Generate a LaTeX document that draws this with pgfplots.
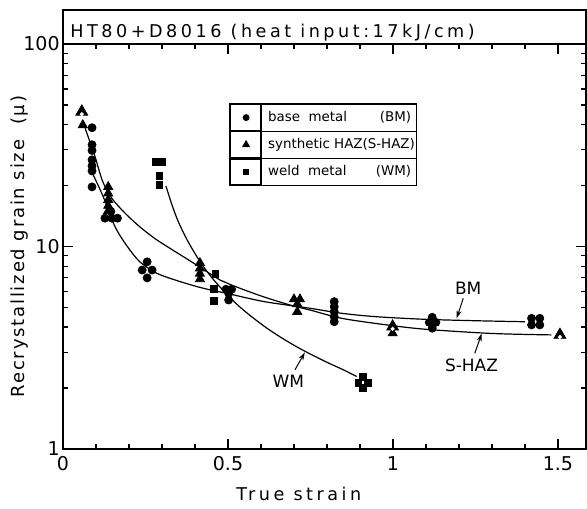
\documentclass[border=0pt]{standalone}
\usepackage{fontspec}
\setmainfont{DejaVu Sans}
\newfontfamily\widefont{DejaVu Sans}[LetterSpace=20]
\newfontfamily\ylabfont{DejaVu Sans}[LetterSpace=10]
\usepackage{pgfplots}
\pgfplotsset{compat=1.18}
\usetikzlibrary{calc,arrows.meta}

\begin{document}
\begin{tikzpicture}
\begin{axis}[
  at={(0,0)}, anchor=south west,
  scale only axis,
  width=261.5pt, height=202.5pt,
  xmin=0, xmax=1.585,
  ymode=log, ymin=1, ymax=100,
  xtick={0,0.5,1,1.5}, xticklabels={0,0.5,1,1.5},
  minor x tick num=4,
  ytick={1,10,100}, yticklabels={1,10,100},
  tick align=inside,
  major tick length=5pt, minor tick length=2.5pt,
  axis line style={line width=0.8pt},
  every tick/.style={black, line width=0.6pt},
  tick label style={font=\fontsize{9.5}{10}\selectfont},
  yticklabel style={inner sep=1.5pt},
  xticklabel style={inner sep=3.5pt},
  xlabel={True strain},
  ylabel={Recrystallized grain size\ \ (μ)},
  xlabel style={font=\widefont\fontsize{8.8}{10}\selectfont, at={(axis description cs:0.451,-0.126)}, anchor=base},
  ylabel style={font=\ylabfont\fontsize{9}{10}\selectfont, at={(axis description cs:-0.073,0.5)}, anchor=base},
  clip=false,
  legend image code/.code={
    \path (0pt,-6.5pt) rectangle (15.5pt,6.5pt);
    \draw[#1, mark options={scale=0.7}] plot coordinates {(7.75pt,0pt)};
  },
  legend style={name=L, at={(axis description cs:0.3193,0.8519)}, anchor=north west,
    draw=black, line width=0.6pt, inner sep=0pt, outer sep=0pt,
    row sep=0pt, column sep=0pt,
    nodes={inner sep=0pt, text height=8.5pt, text depth=4.5pt},
    cells={anchor=west},
    font=\fontsize{6.7}{8}\selectfont},
]

% fitted curves
\addplot[forget plot, smooth, black, line width=0.6pt] coordinates {
  (0.092,22.5) (0.122,17.6) (0.158,12.5) (0.195,10.0) (0.233,8.4)
  (0.284,7.38) (0.35,6.75) (0.42,6.25) (0.5,5.85) (0.6,5.38)
  (0.678,5.14) (0.75,4.95) (0.844,4.68) (0.95,4.5) (1.097,4.37)
  (1.25,4.3) (1.4,4.25)
};
\addplot[forget plot, smooth, black, line width=0.6pt] coordinates {
  (0.067,38.4) (0.097,27.8) (0.12,21.0) (0.148,17.3) (0.19,14.5)
  (0.233,12.5) (0.28,10.9) (0.324,9.8) (0.365,8.9) (0.405,8.1)
  (0.476,6.83) (0.511,6.45) (0.6,5.7) (0.688,5.14) (0.75,4.85)
  (0.844,4.42) (0.981,4.1) (1.1,3.9) (1.3,3.72) (1.48,3.66)
};
\addplot[forget plot, smooth, black, line width=0.6pt] coordinates {
  (0.312,19.9) (0.33,16.1) (0.35,13.2) (0.38,10.5) (0.42,8.2)
  (0.46,6.74) (0.516,5.39) (0.56,4.66) (0.62,3.93) (0.68,3.40)
  (0.733,3.04) (0.8,2.68) (0.85,2.46) (0.89,2.28)
};

% base metal
\addplot[only marks, mark=*, mark size=2pt, black] coordinates {
  (0.088,38.6) (0.088,31.8) (0.088,29.8) (0.088,26.8) (0.088,25.0)
  (0.088,23.6) (0.088,19.7)
  (0.127,13.8) (0.148,13.8) (0.165,13.8) (0.145,14.9)
  (0.24,7.65) (0.255,8.4) (0.27,7.65) (0.255,7.0)
  (0.494,6.15) (0.511,6.15) (0.502,5.87) (0.502,5.44)
  (0.822,5.34) (0.822,5.04) (0.822,4.77) (0.822,4.5) (0.822,4.25)
  (1.119,4.47) (1.11,4.22) (1.13,4.22) (1.119,3.95)
  (1.42,4.42) (1.445,4.42) (1.42,4.1) (1.445,4.1)
};
\addlegendentry{\makebox[77pt][l]{\hspace{3pt}base\ \ metal\hfill(BM)\hspace{2.5pt}}}

% synthetic HAZ
\addplot[only marks, mark=triangle*, mark size=2.6pt, black] coordinates {
  (0.06,39.8)
  (0.137,19.7) (0.137,18.3) (0.137,17.0) (0.137,15.9) (0.137,15.0)
  (0.415,8.3) (0.415,7.8) (0.415,7.35) (0.415,6.9)
  (0.70,5.49) (0.718,5.49) (0.71,5.2) (0.71,4.76)
  (0.999,3.73)
};
\addlegendentry{\makebox[77pt][l]{\hspace{3pt}synthetic HAZ(S-HAZ)\hfill\hspace{1pt}}}

% weld metal
\addplot[only marks, mark=square*, mark size=1.7pt, black] coordinates {
  (0.28,26.2) (0.30,26.2) (0.292,22.3) (0.292,20.1)
  (0.462,7.31) (0.458,6.17) (0.458,5.38)
  (0.91,2.27) (0.895,2.13) (0.925,2.13) (0.91,2.0)
};
\addlegendentry{\makebox[77pt][l]{\hspace{3pt}weld\ \ metal\hfill(WM)\hspace{2.5pt}}}

% doubled HAZ points (large triangle with a light centre)
\addplot[forget plot, only marks, mark=triangle*, mark size=3.4pt, black] coordinates {
  (0.057,46.3) (0.999,4.02) (1.506,3.66)
};
\addplot[forget plot, only marks, mark=*, mark size=0.8pt, white] coordinates {
  (0.057,45.0) (0.999,3.92) (1.506,3.57)
};

% title box
\draw[line width=0.8pt] (rel axis cs:0,1) rectangle (rel axis cs:1,1.084);
\node[anchor=base west, font=\widefont\fontsize{8.8}{10}\selectfont, inner sep=0pt]
  at (rel axis cs:0.0134,1.0165) {HT80+D8016 (heat input:17kJ/cm)};

% curve labels
\node[font=\fontsize{8.5}{10}\selectfont] at (axis cs:1.228,6.22) {BM};
\draw[-{Stealth[length=4pt,width=2.5pt]}, line width=0.5pt] (axis cs:1.213,5.55) -- (axis cs:1.193,4.42);
\node[font=\fontsize{8.5}{10}\selectfont] at (axis cs:1.238,2.60) {S-HAZ};
\draw[-{Stealth[length=4pt,width=2.5pt]}, line width=0.5pt] (axis cs:1.248,2.97) -- (axis cs:1.269,3.72);
\node[font=\fontsize{8.5}{10}\selectfont] at (axis cs:0.683,2.15) {WM};
\draw[-{Stealth[length=4pt,width=2.5pt]}, line width=0.5pt] (axis cs:0.703,2.46) -- (axis cs:0.733,3.0);
\end{axis}

% legend grid
\draw[line width=0.6pt] ($(L.north west)+(15.5pt,0)$) -- ($(L.south west)+(15.5pt,0)$);
\draw[line width=0.6pt] ($(L.north west)!1/3!(L.south west)$) -- ($(L.north east)!1/3!(L.south east)$);
\draw[line width=0.6pt] ($(L.north west)!2/3!(L.south west)$) -- ($(L.north east)!2/3!(L.south east)$);

\pgfresetboundingbox
\path (-31.5pt,-29.5pt) rectangle (262pt,224.5pt);
\end{tikzpicture}
\end{document}
